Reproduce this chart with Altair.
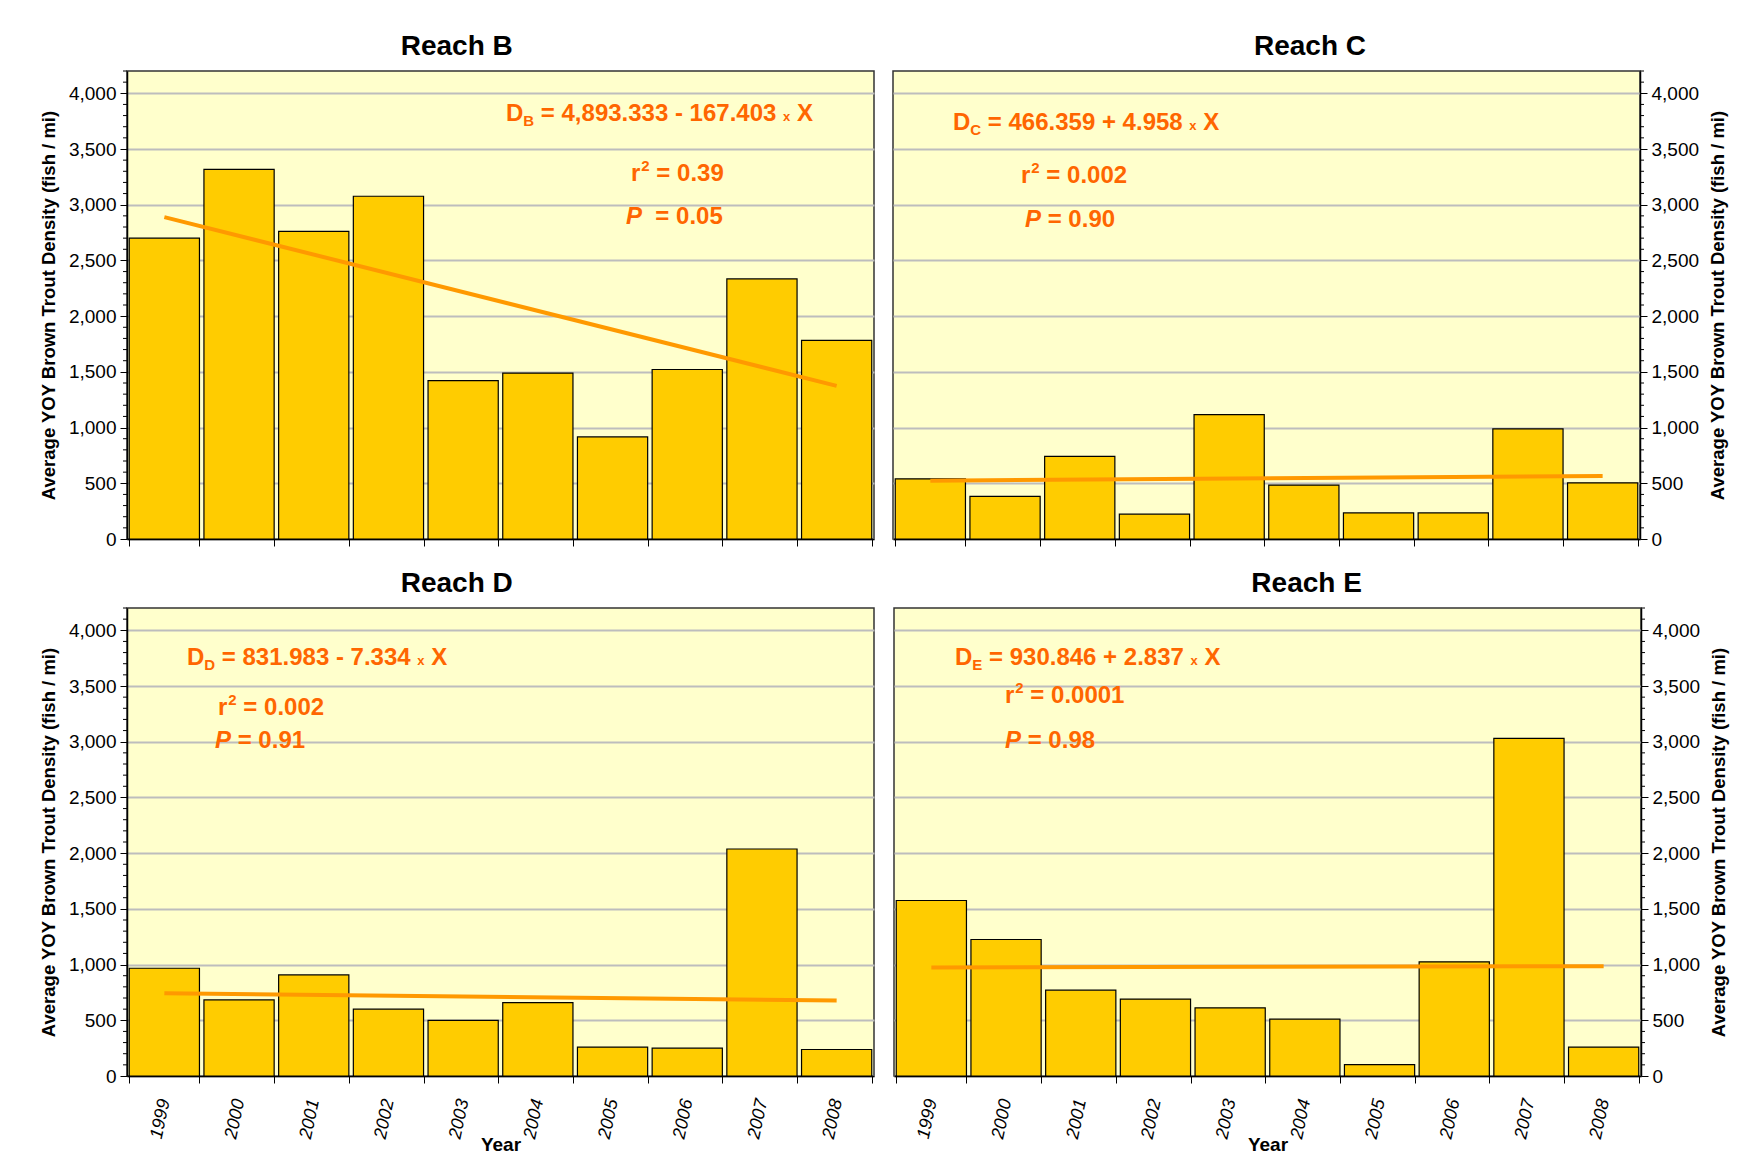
import altair as alt
import pandas as pd

# ---------- data ----------
years = [1999, 2000, 2001, 2002, 2003, 2004, 2005, 2006, 2007, 2008]

reach_b = [2700, 3318, 2760, 3076, 1421, 1489, 916, 1521, 2334, 1782]
reach_c = [540, 383, 742, 223, 1116, 484, 234, 234, 988, 504]
reach_d = [967, 683, 907, 600, 500, 659, 260, 250, 2037, 238]
reach_e = [1575, 1225, 770, 690, 612, 510, 102, 1025, 3030, 260]

y_major = [0, 500, 1000, 1500, 2000, 2500, 3000, 3500, 4000]
y_minor = [v for v in range(0, 4201, 100) if v % 500]

eq_text = {
    "B": "= 4,893.333 - 167.403",
    "C": "= 466.359 + 4.958",
    "D": "= 831.983 - 7.334",
    "E": "= 930.846 + 2.837",
}
r2_text = {"B": "= 0.39", "C": "= 0.002", "D": "= 0.002", "E": "= 0.0001"}
p_text = {"B": "= 0.05", "C": "= 0.90", "D": "= 0.91", "E": "= 0.98"}
p_gap = {"B": 2, "C": 1, "D": 1, "E": 1}  # spaces between P and "="

# ---------- style ----------
FONT = "Liberation Sans"
BAR = "#FFCC00"
LINE = "#FF9900"
NOTE = "#FF6600"
W, H = 747, 468

# Arial bold advance widths (per 1000 em), used to place the pieces of the notes
AW = {" ": 278, ",": 278, ".": 278, "-": 333, "+": 584, "=": 584,
      "D": 722, "B": 722, "C": 722, "E": 667, "X": 667, "x": 556, "r": 389, "P": 667}
for d in "0123456789":
    AW[d] = 556


def tw(s, size):
    return sum(AW[c] for c in s) * size / 1000


one = pd.DataFrame({"k": [0]})


def piece(s, x, y, size, italic=False):
    return (
        alt.Chart(one)
        .mark_text(text=s, align="left", baseline="alphabetic", font=FONT,
                   fontSize=size, fontWeight="bold",
                   fontStyle="italic" if italic else "normal", color=NOTE)
        .encode(x=alt.value(x), y=alt.value(y))
    )


def notes(sub, eq_xy, r2_xy, p_xy):
    out = []
    sp = tw(" ", 24)
    # D_sub = ... x X
    x, y = eq_xy[0], eq_xy[1] + 8.6
    out.append(piece("D", x, y, 24)); x += tw("D", 24)
    out.append(piece(sub, x, y + 5, 15)); x += tw(sub, 15) + sp
    out.append(piece(eq_text[sub], x, y, 24)); x += tw(eq_text[sub], 24) + sp
    out.append(piece("x", x, y, 13)); x += tw("x", 13) + sp
    out.append(piece("X", x, y, 24))
    # r^2
    x, y = r2_xy[0], r2_xy[1] + 8.6
    out.append(piece("r", x, y, 24)); x += tw("r", 24)
    out.append(piece("2", x + 1, y - 10, 15)); x += tw("2", 15) + 1 + sp
    out.append(piece(r2_text[sub], x, y, 24))
    # P
    x, y = p_xy[0], p_xy[1] + 8.6
    out.append(piece("P", x, y, 24, italic=True)); x += tw("P", 24) + p_gap[sub] * sp
    out.append(piece(p_text[sub], x, y, 24))
    return out


def y_axis(side):
    return alt.Axis(
        orient=side,
        values=y_major,
        labelExpr="format(datum.value, ',')",
        labelFont=FONT, labelFontSize=19, labelColor="black", labelPadding=4,
        tickSize=7, tickColor="black", tickWidth=1,
        grid=True, gridColor="#BDBDBD", gridWidth=1.8,
        domainColor="black", domainWidth=1.5,
        title="Average YOY Brown Trout Density (fish / mi)",
        titleFont=FONT, titleFontSize=18.5, titleFontWeight="bold", titleColor="black",
        titlePadding=10,
        **({"titleAngle": 270, "titleBaseline": "top"} if side == "right" else {}),
    )


def x_axis(bottom):
    if not bottom:
        return alt.Axis(title=None, labels=False, tickBand="extent", tickSize=7,
                        tickColor="black", domainColor="black", domainWidth=1.5, grid=False)
    return alt.Axis(
        title="Year", titleFont=FONT, titleFontSize=19, titleFontWeight="bold",
        titleColor="black", titlePadding=-5,
        labelAngle=282, labelAlign="right", labelBaseline="middle",
        labelFont=FONT, labelFontSize=18, labelFontStyle="italic", labelColor="black",
        labelPadding=16,
        tickBand="extent", tickSize=7, tickColor="black",
        domainColor="black", domainWidth=1.5, grid=False,
    )


def panel(sub, values, side, bottom, eq_xy, r2_xy, p_xy):
    df = pd.DataFrame({"year": years, "value": values})
    xs = alt.Scale(paddingInner=0.06, paddingOuter=0.03)
    ys = alt.Scale(domain=[0, 4200], nice=False)
    xa, ya = x_axis(bottom), y_axis(side)

    bars = alt.Chart(df).mark_bar(fill=BAR, stroke="black", strokeWidth=1.2).encode(
        x=alt.X("year:O", scale=xs, axis=xa),
        y=alt.Y("value:Q", scale=ys, axis=ya),
    )
    trend = (
        alt.Chart(df)
        .transform_regression("year", "value")
        .mark_line(color=LINE, strokeWidth=4)
        .encode(x=alt.X("year:O", scale=xs, axis=xa),
                y=alt.Y("value:Q", scale=ys, axis=ya))
    )
    # minor ticks every 100 along the value axis
    x0, x1 = (-4, 0) if side == "left" else (W, W + 4)
    minor = (
        alt.Chart(pd.DataFrame({"value": y_minor}))
        .mark_rule(color="black", strokeWidth=1)
        .encode(y=alt.Y("value:Q", scale=ys, axis=ya), x=alt.value(x0), x2=alt.value(x1))
    )
    return alt.layer(bars, minor, trend, *notes(sub, eq_xy, r2_xy, p_xy)).properties(
        width=W,
        height=H,
        title=alt.TitleParams(f"Reach {sub}", font=FONT, fontSize=28, fontWeight="bold",
                              color="black", anchor="middle", frame="bounds", offset=10),
    )


b = panel("B", reach_b, "left", False, (379, 41), (504, 101), (499, 144))
c = panel("C", reach_c, "right", False, (60, 50), (128, 103), (132, 147))
d = panel("D", reach_d, "left", True, (60, 48), (91, 98), (88, 131))
e = panel("E", reach_e, "right", True, (61, 48), (111, 86), (111, 131))

chart = (
    alt.vconcat(alt.hconcat(b, c, spacing=17), alt.hconcat(d, e, spacing=9), spacing=18)
    .configure_view(fill="#FFFFCC", stroke="#333333", strokeWidth=1.5)
    .properties(padding={"left": 30, "top": 23, "right": 5, "bottom": 5}, background="white")
)

chart.save("out.html", embed_options={"renderer": "svg", "actions": False})
